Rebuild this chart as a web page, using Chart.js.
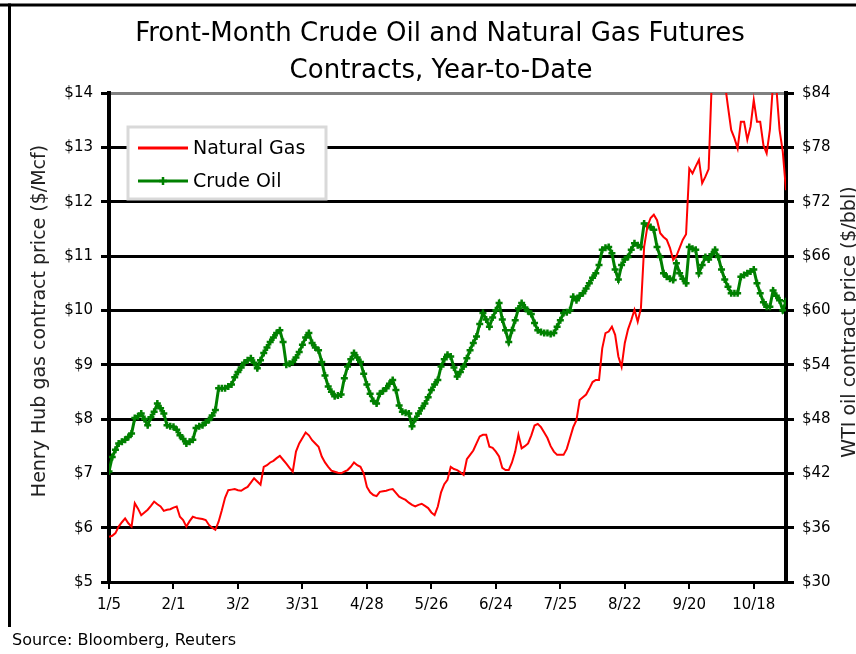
<!DOCTYPE html>
<html><head><meta charset="utf-8">
<script src="https://cdn.jsdelivr.net/npm/chart.js@4.4.0/dist/chart.umd.min.js"></script>
<style>html,body{margin:0;padding:0;background:#fff;} canvas{display:block;}</style>
</head><body>
<canvas id="c" width="856" height="654"></canvas>
<script>
const tickLabels = ['1/5','2/1','3/2','3/31','4/28','5/26','6/24','7/25','8/22','9/20','10/18'];
const naturalGas = [
5.83,5.85,5.90,6.02,6.10,6.17,6.08,6.02,6.45,6.35,
6.23,6.28,6.33,6.40,6.48,6.43,6.39,6.31,6.33,6.34,
6.37,6.39,6.20,6.14,6.02,6.12,6.20,6.18,6.17,6.16,
6.14,6.05,6.00,5.96,6.11,6.32,6.55,6.69,6.70,6.71,
6.69,6.68,6.72,6.75,6.83,6.91,6.85,6.79,7.12,7.15,
7.20,7.23,7.28,7.32,7.25,7.18,7.10,7.03,7.40,7.55,
7.65,7.75,7.70,7.61,7.55,7.49,7.31,7.20,7.12,7.05,
7.03,7.01,7.00,7.03,7.06,7.12,7.20,7.15,7.12,7.00,
6.75,6.65,6.60,6.58,6.66,6.67,6.68,6.70,6.71,6.64,
6.57,6.54,6.51,6.46,6.42,6.39,6.42,6.44,6.40,6.36,
6.28,6.23,6.39,6.65,6.80,6.88,7.12,7.08,7.06,7.02,
6.97,7.26,7.34,7.42,7.55,7.68,7.71,7.71,7.49,7.47,
7.40,7.31,7.10,7.06,7.06,7.20,7.40,7.71,7.46,7.50,
7.55,7.70,7.88,7.91,7.85,7.75,7.65,7.50,7.40,7.34,
7.34,7.34,7.45,7.65,7.85,7.98,8.35,8.40,8.45,8.56,
8.68,8.72,8.72,9.30,9.58,9.61,9.70,9.55,9.15,8.96,
9.40,9.65,9.82,10.01,9.79,10.04,11.17,11.54,11.70,11.76,
11.66,11.42,11.35,11.30,11.15,10.93,11.00,11.15,11.30,11.40,
12.61,12.52,12.65,12.77,12.34,12.46,12.60,14.25,14.30,14.20,
14.15,14.20,13.75,13.32,13.17,12.98,13.47,13.47,13.14,13.38,
13.87,13.47,13.47,13.04,12.89,13.32,14.20,14.10,13.32,12.92,
12.21];
const crudeOil = [
42.2,43.8,44.6,45.3,45.5,45.7,46.0,46.4,48.1,48.3,
48.6,48.0,47.3,48.2,48.8,49.7,49.2,48.6,47.3,47.2,
47.15,46.8,46.2,45.8,45.3,45.5,45.7,47.0,47.2,47.3,
47.6,47.9,48.4,49.0,51.4,51.4,51.4,51.6,51.8,52.6,
53.2,53.7,54.2,54.5,54.7,54.2,53.6,54.5,55.3,55.9,
56.5,57.0,57.5,57.8,56.5,54.0,54.1,54.3,54.8,55.4,
56.2,57.0,57.5,56.4,55.9,55.6,54.3,52.8,51.6,51.0,
50.5,50.6,50.7,52.5,53.8,54.6,55.3,54.8,54.3,53.0,
51.8,50.8,50.0,49.7,50.8,51.1,51.4,51.9,52.3,51.2,
49.5,48.8,48.7,48.6,47.2,48.0,48.6,49.2,49.7,50.4,
51.2,51.8,52.3,53.8,54.6,55.1,54.9,53.7,52.7,53.2,
53.8,54.7,55.6,56.4,57.1,58.5,59.7,59.0,58.2,59.2,
60.0,60.8,59.0,57.8,56.5,57.8,58.9,60.2,60.8,60.3,
59.9,59.6,58.6,57.8,57.6,57.5,57.5,57.4,57.5,58.2,
58.9,59.7,59.8,60.0,61.5,61.1,61.6,61.9,62.4,63.0,
63.6,64.1,65.0,66.7,66.9,67.0,66.3,64.5,63.4,65.0,
65.6,65.9,66.7,67.4,67.2,67.0,69.6,69.3,69.2,68.9,
67.0,65.9,64.1,63.7,63.5,63.35,65.2,64.1,63.5,63.0,
67.0,66.8,66.7,64.1,65.0,65.9,65.6,66.2,66.7,65.9,
64.5,63.4,62.6,61.9,61.9,61.9,63.7,63.9,64.1,64.3,
64.5,63.0,61.9,60.9,60.4,60.4,62.2,61.6,61.1,60.0,
61.0];
const titleLines = ['Front-Month Crude Oil and Natural Gas Futures', 'Contracts, Year-to-Date'];
const leftTitle = 'Henry Hub gas contract price ($/Mcf)';
const rightTitle = 'WTI oil contract price ($/bbl)';
const sourceNote = 'Source: Bloomberg, Reuters';
const seriesNames = ['Natural Gas', 'Crude Oil'];

const dayIndex = naturalGas.map((_, i) => i);
const FONT = '"DejaVu Sans", sans-serif';

const extras = {
  id: 'extras',
  afterDraw(chart) {
    const c = chart.ctx;
    c.save();
    // outer frame
    c.strokeStyle = '#000'; c.lineWidth = 3;
    c.beginPath(); c.moveTo(0, 5); c.lineTo(856, 5); c.stroke();
    c.beginPath(); c.moveTo(9.5, 3.5); c.lineTo(9.5, 627); c.stroke();
    // title
    c.fillStyle = '#000'; c.textAlign = 'center'; c.textBaseline = 'middle';
    c.font = '26px ' + FONT;
    c.fillText(titleLines[0], 440, 34);
    c.fillText(titleLines[1], 441, 71);
    // axis titles
    c.font = '19px ' + FONT; c.fillStyle = '#222';
    c.save(); c.translate(40, 321); c.rotate(-Math.PI / 2); c.fillText(leftTitle, 0, 0); c.restore();
    c.save(); c.translate(850, 322); c.rotate(-Math.PI / 2); c.fillText(rightTitle, 0, 0); c.restore();
    // source
    c.textAlign = 'left'; c.font = '16px ' + FONT; c.fillStyle = '#000';
    c.fillText(sourceNote, 12, 641);
    // legend
    c.fillStyle = '#fff'; c.strokeStyle = '#d9d9d9'; c.lineWidth = 3;
    c.fillRect(128, 127, 198, 72); c.strokeRect(128, 127, 198, 72);
    const rows = [148, 181];
    chart.data.datasets.forEach((ds, k) => {
      const y = rows[k];
      c.strokeStyle = ds.borderColor; c.lineWidth = 3;
      c.beginPath(); c.moveTo(138, y); c.lineTo(188, y); c.stroke();
      if (ds.pointRadius > 0) {
        c.lineWidth = 2.5;
        c.beginPath(); c.moveTo(163, y - 4); c.lineTo(163, y + 4); c.moveTo(159, y); c.lineTo(167, y); c.stroke();
      }
      c.fillStyle = '#000'; c.font = '19px ' + FONT; c.textAlign = 'left'; c.textBaseline = 'middle';
      c.fillText(ds.label, 193, y + 1);
    });
    c.restore();
  }
};

new Chart(document.getElementById('c'), {
  type: 'line',
  data: {
    labels: dayIndex,
    datasets: [
      { label: seriesNames[0], data: naturalGas, yAxisID: 'y', borderColor: '#ff0000', borderWidth: 2,
        pointRadius: 0, tension: 0, fill: false },
      { label: seriesNames[1], data: crudeOil, yAxisID: 'y1', borderColor: '#008000', borderWidth: 3,
        pointStyle: 'cross', pointRadius: 3.5, pointBorderWidth: 2.5, pointBorderColor: '#008000',
        pointBackgroundColor: '#008000', tension: 0, fill: false }
    ]
  },
  options: {
    responsive: false, animation: false, devicePixelRatio: 1,
    layout: { padding: { top: 93, left: 0, right: 0, bottom: 0 } },
    plugins: { legend: { display: false }, title: { display: false }, tooltip: { enabled: false } },
    scales: {
      x: {
        type: 'linear', min: 0, max: dayIndex.length - 1, position: 'bottom',
        afterFit(s) { s.height = 72; },
        border: { display: true, color: '#000', width: 3 },
        grid: { drawOnChartArea: false, drawTicks: true, tickLength: 7, color: '#000', lineWidth: 2 },
        ticks: { stepSize: 20, includeBounds: false, autoSkip: false, maxRotation: 0, padding: 7,
          color: '#000', font: { family: 'DejaVu Sans', size: 15 },
          callback: (v) => (v % 20 === 0 && tickLabels[v / 20] !== undefined ? tickLabels[v / 20] : '') }
      },
      y: {
        position: 'left', min: 5, max: 14,
        afterFit(s) { s.width = 109; },
        border: { display: true, color: '#000', width: 4 },
        grid: { color: (c) => (c.tick && c.tick.value === 14 ? '#808080' : '#000'), tickColor: '#000',
          lineWidth: 3, tickLength: 8, drawTicks: true },
        ticks: { stepSize: 1, padding: 8, color: '#000', font: { family: 'DejaVu Sans', size: 15 },
          callback: (v) => '$' + v }
      },
      y1: {
        position: 'right', min: 30, max: 84,
        afterFit(s) { s.width = 70; },
        border: { display: true, color: '#000', width: 4 },
        grid: { drawOnChartArea: false, color: '#000', lineWidth: 3, tickLength: 8 },
        ticks: { stepSize: 6, padding: 8, color: '#000', font: { family: 'DejaVu Sans', size: 15 },
          callback: (v) => '$' + v }
      }
    }
  },
  plugins: [extras]
});
</script>
</body></html>
